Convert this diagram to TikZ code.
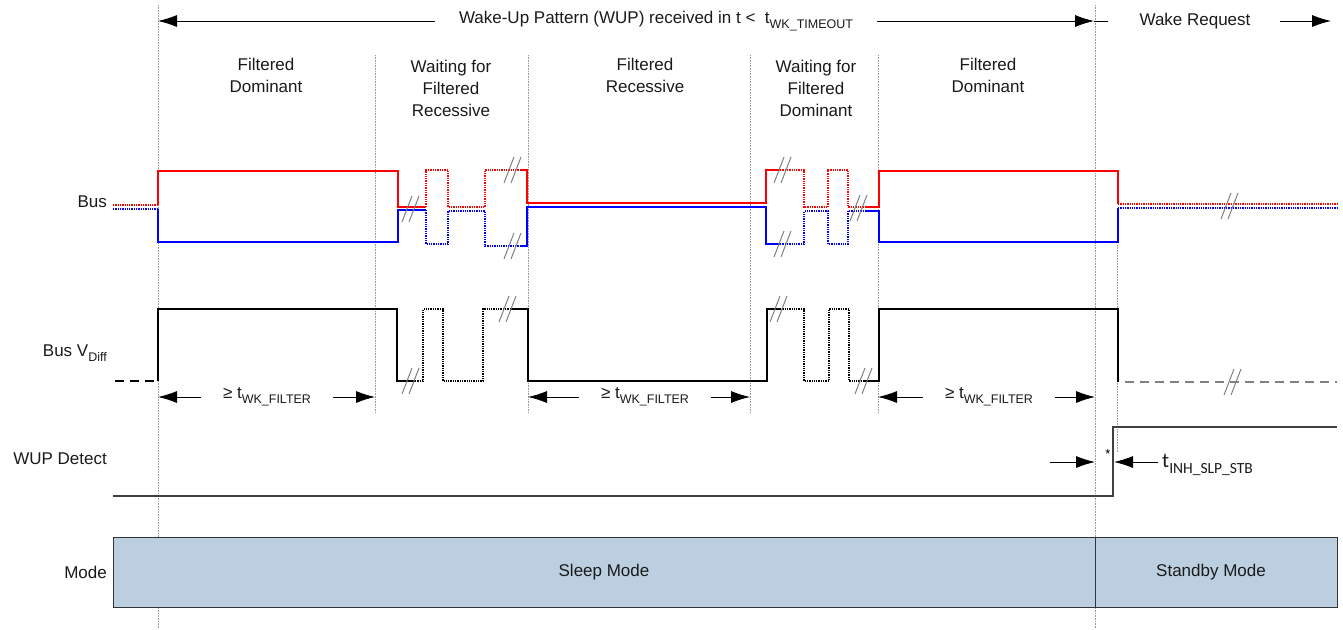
\documentclass[tikz,border=0pt]{standalone}
\usepackage{fontspec}
\setmainfont{Liberation Sans}
\newfontfamily\calfont{Carlito}
\usetikzlibrary{arrows.meta}
\newcommand\subs[1]{\raisebox{-0.3em}{\fontsize{12.5}{13}\selectfont #1}}
\newcommand\sigbreak[2]{\draw[brkline] (#1-8,#2+13) -- ++(10,-26) (#1-1,#2+13) -- ++(10,-26);}
\definecolor{modefill}{HTML}{BCCFE0}
\definecolor{txt}{HTML}{1A1A1A}
\begin{document}
\begin{tikzpicture}[x=1pt,y=-1pt,
  lbl/.style={font=\fontsize{17}{22}\selectfont, text=txt, align=center, inner sep=0pt},
  rowlbl/.style={lbl, anchor=east},
  vguide/.style={draw=gray!80, densely dotted, line width=0.6pt},
  redsig/.style={draw=red, line width=1.3pt},
  bluesig/.style={draw=blue, line width=1.3pt},
  blksig/.style={draw=black, line width=1.3pt},
  dots/.style={densely dotted},
  brkline/.style={draw=gray, line width=1pt},
  arr/.style={draw=black, line width=0.8pt, -{Latex[length=19pt,width=12pt]}},
  line join=miter
]
\useasboundingbox (0,0) rectangle (1343,629);

% guide lines
\draw[vguide] (158,5) -- (158,629);
\draw[vguide] (1095,5) -- (1095,629);
\foreach \xx in {375,528,750,878} {\draw[vguide] (\xx,55) -- (\xx,413);}
\draw[vguide] (1117,245) -- (1117,452);

% coordinates
\coordinate (g1top) at (158,21);
\coordinate (g6top) at (1094,21);
\coordinate (wr1) at (1280,21);
\coordinate (wr2) at (1331,21);
\coordinate (a1l) at (158,397);
\coordinate (a1r) at (375,397);
\coordinate (a2l) at (528,397);
\coordinate (a2r) at (750,397);
\coordinate (a3l) at (878,397);
\coordinate (a3r) at (1095,397);

% top texts
\node[lbl] (wup) at (656,21) {Wake-Up Pattern (WUP) received in t <\ \ t\subs{WK\_TIMEOUT}};
\draw[arr, shorten <=24pt] (wup.west) -- (g1top);
\draw[arr, shorten <=24pt] (wup.east) -- (g6top);
\draw[line width=0.8pt] (g6top) -- ++(14,0);
\node[lbl] (wreq) at (1195,21) {Wake Request};
\draw[arr] (wr1) -- (wr2);

\node[lbl] (p1) at (266,75) {Filtered\\Dominant};
\node[lbl] (p2) at (451,88) {Waiting for\\Filtered\\Recessive};
\node[lbl] (p3) at (645,75) {Filtered\\Recessive};
\node[lbl] (p4) at (816,88) {Waiting for\\Filtered\\Dominant};
\node[lbl] (p5) at (988,75) {Filtered\\Dominant};

% row labels
\node[rowlbl] (rbus) at (107,202) {Bus};
\node[rowlbl] (rvd) at (107,353) {Bus V\subs{Diff}};
\node[rowlbl] (rwup) at (107,459) {WUP Detect};
\node[rowlbl] (rmode) at (107,572) {Mode};

% Bus red
\draw[redsig, dots] (113,205) -- (158,205);
\draw[redsig] (158,205) -- (158,171) -- (398,171) -- (398,207) -- (426,207);
\draw[redsig, dots] (426,207) -- (426,170) -- (448,170) -- (448,207) -- (485,207) -- (485,170) -- (520,170);
\draw[redsig] (520,170) -- (527,170) -- (527,203) -- (766,203) -- (766,170) -- (780,170);
\draw[redsig, dots] (780,170) -- (804,170) -- (804,207) -- (828,207) -- (828,170) -- (848,170) -- (848,207) -- (865,207);
\draw[redsig] (865,207) -- (879,207) -- (879,171) -- (1118,171) -- (1118,204);
\draw[redsig, dots] (1118,204) -- (1337,204);
% Bus blue
\draw[bluesig, dots] (113,209) -- (158,209);
\draw[bluesig] (158,209) -- (158,242) -- (398,242) -- (398,210) -- (426,210);
\draw[bluesig, dots] (426,210) -- (426,244) -- (448,244) -- (448,211) -- (485,211) -- (485,246) -- (520,246);
\draw[bluesig] (520,246) -- (527,246) -- (527,207) -- (766,207) -- (766,244) -- (780,244);
\draw[bluesig, dots] (780,244) -- (804,244) -- (804,211) -- (828,211) -- (828,244) -- (848,244) -- (848,211) -- (865,211);
\draw[bluesig] (865,211) -- (879,211) -- (879,242) -- (1118,242) -- (1118,208);
\draw[bluesig, dots] (1118,208) -- (1337,208);
\sigbreak{410}{209}
\sigbreak{512}{170}
\sigbreak{512}{246}
\sigbreak{782}{170}
\sigbreak{782}{244}
\sigbreak{858}{208}
\sigbreak{1229}{206}

% VDiff
\draw[blksig, dashed, dash pattern=on 9pt off 6pt] (115,381) -- (158,381);
\draw[blksig] (158,381) -- (158,309) -- (397,309) -- (397,381) -- (415,381);
\draw[blksig, dots] (415,381) -- (423,381) -- (423,309) -- (443,309) -- (443,381) -- (483,381) -- (483,309) -- (510,309);
\draw[blksig] (510,309) -- (528,309) -- (528,381) -- (767,381) -- (767,309) -- (780,309);
\draw[blksig, dots] (780,309) -- (804,309) -- (804,381) -- (829,381) -- (829,309) -- (849,309) -- (849,381) -- (864,381);
\draw[blksig] (864,381) -- (879,381) -- (879,309) -- (1118,309) -- (1118,382);
\draw[blksig, draw=gray, dashed, dash pattern=on 9pt off 6pt] (1125,382) -- (1337,382);
\sigbreak{410}{381}
\sigbreak{507}{309}
\sigbreak{778}{309}
\sigbreak{863}{381}
\sigbreak{1232}{382}

% filter arrows
\node[lbl] (f1) at (267,397) {≥ t\subs{WK\_FILTER}};
\node[lbl] (f2) at (645,397) {≥ t\subs{WK\_FILTER}};
\node[lbl] (f3) at (989,397) {≥ t\subs{WK\_FILTER}};
\draw[arr, shorten <=22pt] (f1.west) -- (a1l);
\draw[arr, shorten <=22pt] (f1.east) -- (a1r);
\draw[arr, shorten <=22pt] (f2.west) -- (a2l);
\draw[arr, shorten <=22pt] (f2.east) -- (a2r);
\draw[arr, shorten <=22pt] (f3.west) -- (a3l);
\draw[arr, shorten <=22pt] (f3.east) -- (a3r);

% WUP detect
\draw[draw=black!75, line width=1.2pt] (113,496) -- (1113,496) -- (1113,427) -- (1337,427);
\coordinate (w1) at (1050,462);
\coordinate (w2) at (1095,462);
\coordinate (w3) at (1158,462);
\coordinate (w4) at (1114,462);
\draw[arr] (w1) -- (w2);
\draw[arr] (w3) -- (w4);
\node[font=\fontsize{13}{13}\selectfont, inner sep=0pt] (ast) at (1108,454) {*};
\node[anchor=west, inner sep=0pt, font=\calfont\fontsize{21}{22}\selectfont, text=txt] (tinh) at (1162,465) {t\raisebox{-0.3em}{\fontsize{15.5}{16}\selectfont INH\_SLP\_STB}};

% Mode
\draw[fill=modefill, draw=black!80, line width=0.8pt] (113,537) rectangle (1337,607);
\draw[draw=black!80, line width=0.8pt] (1095,537) -- (1095,607);
\node[lbl] (sleep) at (604,572) {Sleep Mode};
\node[lbl] (stby) at (1211,572) {Standby Mode};
\end{tikzpicture}
\end{document}
